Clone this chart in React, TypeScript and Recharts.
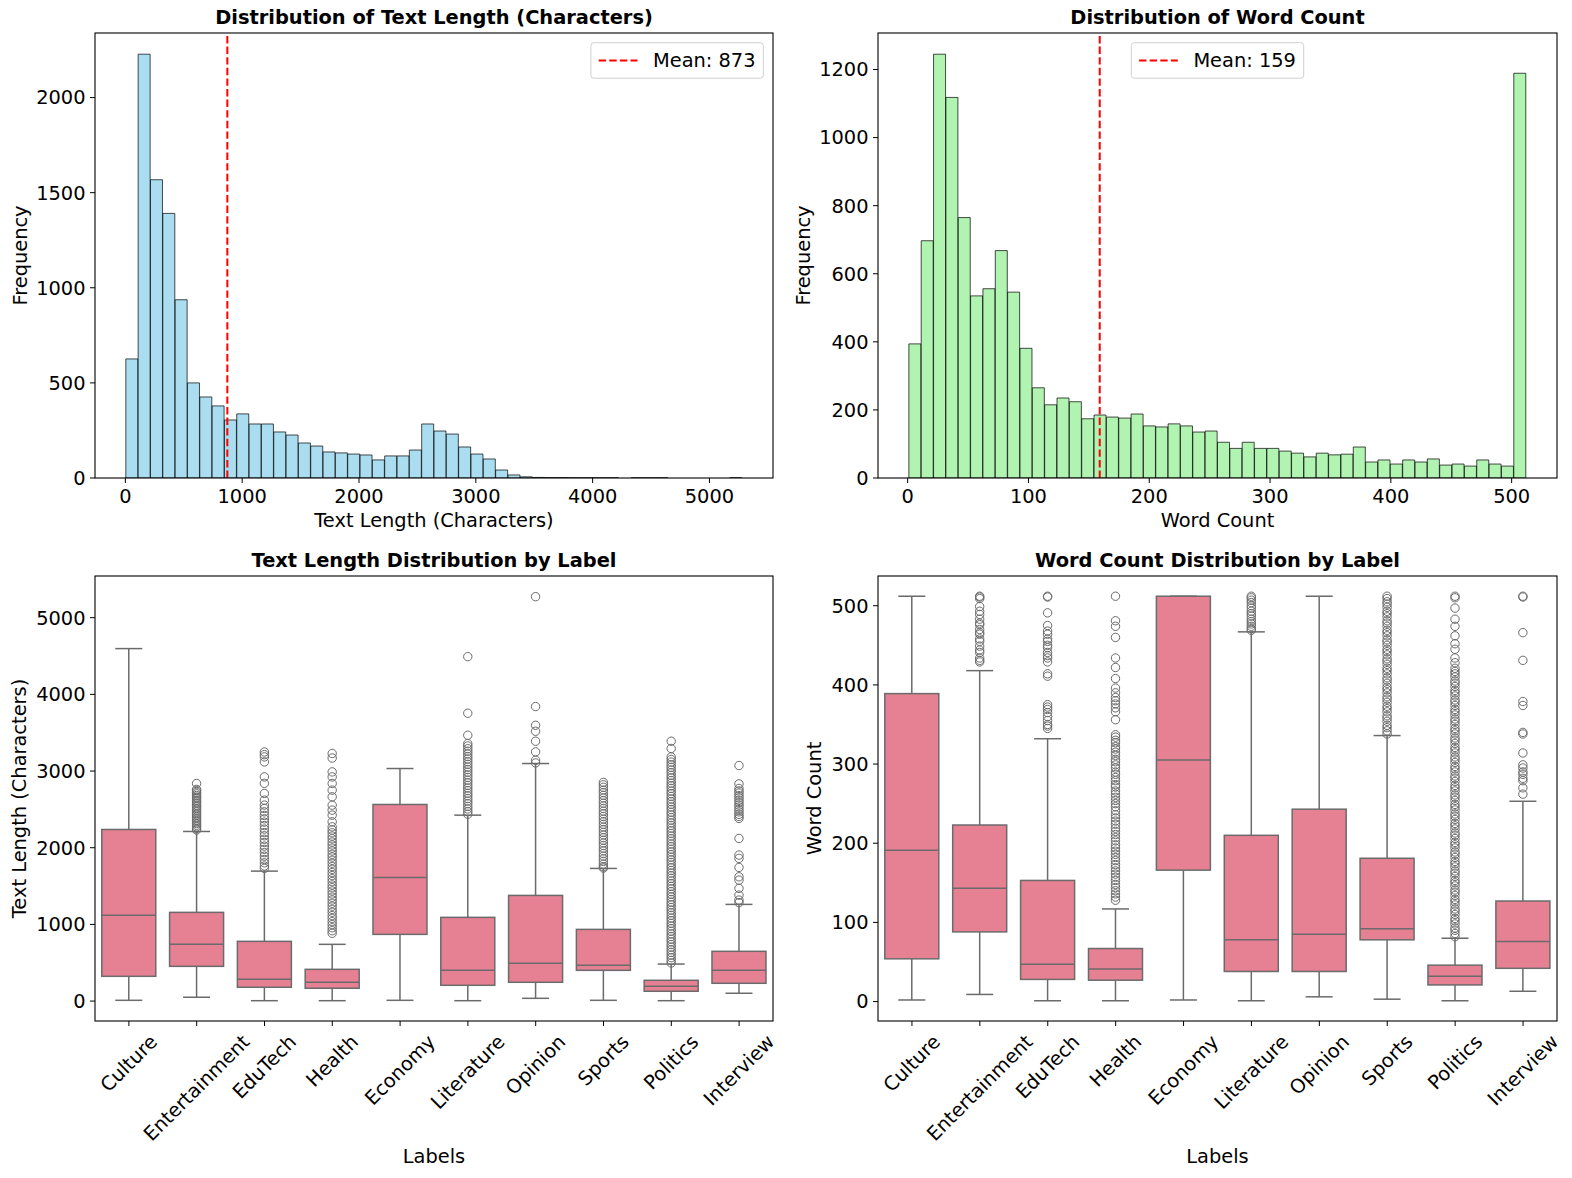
import React from 'react';
import { ComposedChart, Bar, XAxis, YAxis, ReferenceLine } from 'recharts';

const FONT = "'DejaVu Sans', sans-serif";
const FS = 19.4;
const BOX_FILL = '#e68093';
const BOX_LINE = '#6b6b6b';

// ---------- data ----------
const LABELS = ['Culture', 'Entertainment', 'EduTech', 'Health', 'Economy', 'Literature', 'Opinion', 'Sports', 'Politics', 'Interview'];

// text length histogram (50 bins over [min, max])
const TEXT_LEN_RANGE = [4, 5280];
const TEXT_LEN_MEAN = 873;
const TEXT_LEN_HIST = [626, 2228, 1568, 1391, 937, 500, 426, 379, 305, 337, 284, 284, 242, 226, 184, 168, 137, 132, 126, 121, 95, 116, 116, 147, 284, 247, 231, 163, 126, 100, 42, 16, 6, 3, 2, 2, 1, 1, 1, 1, 0, 1, 1, 1, 0, 0, 0, 0, 0, 1];
const TEXT_LEN_X_TICKS = [0, 1000, 2000, 3000, 4000, 5000];
const TEXT_LEN_FREQ_TICKS = [0, 500, 1000, 1500, 2000];

// word count histogram
const WORD_RANGE = [1, 512];
const WORD_MEAN = 159;
const WORD_HIST = [394, 697, 1245, 1118, 765, 535, 556, 668, 546, 381, 265, 215, 235, 224, 174, 185, 179, 176, 188, 153, 150, 159, 153, 135, 138, 105, 87, 105, 87, 87, 79, 73, 62, 73, 68, 70, 91, 47, 53, 41, 53, 47, 56, 38, 41, 35, 53, 41, 35, 1189];
const WORD_X_TICKS = [0, 100, 200, 300, 400, 500];
const WORD_FREQ_TICKS = [0, 200, 400, 600, 800, 1000, 1200];

// text length by label (same order as LABELS)
const TEXT_LEN_LO = [10, 50, 5, 5, 10, 5, 36, 10, 5, 102];
const TEXT_LEN_Q1 = [323, 453, 180, 167, 870, 206, 245, 401, 128, 232];
const TEXT_LEN_MED = [1118, 740, 284, 245, 1613, 401, 492, 466, 193, 401];
const TEXT_LEN_Q3 = [2238, 1157, 779, 414, 2564, 1092, 1378, 935, 271, 649];
const TEXT_LEN_HI = [4597, 2212, 1695, 740, 3033, 2425, 3098, 1730, 483, 1261];
const TEXT_LEN_TICKS = [0, 1000, 2000, 3000, 4000, 5000];
const TEXT_LEN_OUTLIERS = [
  [],
  [2838, 2761, 2744, 2722, 2703, 2681, 2660, 2642, 2619, 2598, 2577, 2553, 2534, 2511, 2489, 2468, 2444, 2425, 2401, 2380, 2357, 2338, 2315, 2293, 2272, 2249, 2231],
  [3249, 3214, 3184, 3119, 2924, 2840, 2708, 2620, 2556, 2512, 2468, 2421, 2377, 2334, 2289, 2243, 2197, 2156, 2110, 2068, 2021, 1979, 1936, 1890, 1847, 1803, 1762, 1731],
  [3229, 3170, 2989, 2924, 2838, 2751, 2664, 2555, 2490, 2425, 2338, 2273, 2231, 2195, 2152, 2117, 2074, 2036, 1995, 1957, 1914, 1878, 1836, 1797, 1755, 1718, 1676, 1637, 1596, 1558, 1515, 1478, 1436, 1397, 1355, 1318, 1276, 1237, 1196, 1158, 1115, 1078, 1036, 997, 956, 918, 884],
  [],
  [4492, 3754, 3467, 3358, 3327, 3291, 3258, 3224, 3189, 3157, 3121, 3088, 3052, 3019, 2985, 2950, 2917, 2881, 2848, 2812, 2779, 2745, 2710, 2677, 2641, 2608, 2574, 2539, 2506, 2470, 2437],
  [5274, 3841, 3597, 3519, 3389, 3250, 3141, 3106],
  [2852, 2821, 2788, 2752, 2719, 2683, 2650, 2614, 2581, 2545, 2512, 2476, 2443, 2407, 2374, 2338, 2305, 2269, 2236, 2200, 2167, 2131, 2098, 2062, 2029, 1993, 1960, 1924, 1891, 1855, 1822, 1786, 1753, 1735],
  [3389, 3294, 3184, 3151, 3117, 3082, 3049, 3013, 2980, 2944, 2911, 2876, 2842, 2807, 2774, 2738, 2705, 2669, 2636, 2600, 2567, 2531, 2498, 2462, 2429, 2393, 2360, 2324, 2291, 2255, 2222, 2186, 2153, 2117, 2084, 2048, 2015, 1979, 1946, 1910, 1877, 1841, 1808, 1772, 1739, 1703, 1670, 1634, 1601, 1565, 1532, 1496, 1463, 1427, 1394, 1358, 1325, 1289, 1256, 1220, 1187, 1151, 1118, 1082, 1049, 1013, 980, 944, 911, 875, 842, 806, 773, 737, 704, 668, 635, 599, 566, 530, 497],
  [3072, 2833, 2773, 2741, 2712, 2679, 2651, 2618, 2590, 2557, 2529, 2497, 2468, 2436, 2408, 2382, 2121, 1904, 1861, 1743, 1621, 1578, 1470, 1382, 1317, 1284],
];

// word count by label
const WORD_LO = [2, 9, 1, 1, 2, 1, 6, 3, 1, 13];
const WORD_Q1 = [54, 88, 28, 27, 166, 38, 38, 78, 21, 42];
const WORD_MED = [191, 143, 47, 41, 305, 78, 85, 92, 32, 76];
const WORD_Q3 = [389, 223, 153, 67, 512, 210, 243, 181, 46, 127];
const WORD_HI = [512, 418, 332, 117, 512, 467, 512, 336, 80, 253];
const WORD_TICKS = [0, 100, 200, 300, 400, 500];
const WORD_OUTLIERS = [
  [],
  [512, 511, 509, 499, 493, 489, 483, 478, 476, 470, 466, 464, 458, 455, 449, 444, 441, 434, 431, 429],
  [512, 511, 491, 475, 468, 464, 458, 455, 450, 447, 441, 437, 434, 429, 414, 411, 375, 372, 369, 365, 360, 355, 350, 348, 345],
  [512, 481, 474, 460, 434, 422, 408, 396, 390, 384, 380, 376, 371, 366, 356, 337, 334, 330, 327, 322, 319, 315, 311, 306, 303, 299, 295, 290, 287, 283, 279, 274, 271, 266, 262, 258, 254, 250, 246, 241, 236, 232, 228, 224, 219, 215, 211, 207, 203, 198, 194, 190, 186, 182, 178, 173, 169, 165, 161, 157, 153, 148, 144, 140, 136, 132, 128],
  [],
  [512, 510, 507, 504, 500, 497, 493, 490, 487, 483, 480, 477, 474, 471, 469],
  [],
  [512, 509, 505, 502, 498, 493, 490, 486, 481, 478, 474, 469, 466, 462, 457, 454, 450, 445, 442, 438, 433, 430, 426, 421, 418, 414, 409, 406, 402, 397, 394, 390, 385, 382, 378, 373, 370, 366, 361, 358, 354, 349, 346, 342, 338],
  [512, 510, 497, 483, 474, 462, 452, 445, 434, 428, 421, 417, 414, 410, 405, 402, 398, 393, 390, 386, 381, 378, 374, 369, 366, 362, 357, 354, 350, 345, 342, 338, 333, 330, 326, 321, 318, 314, 309, 306, 302, 297, 294, 290, 285, 282, 278, 273, 270, 266, 261, 258, 254, 249, 246, 242, 237, 234, 230, 225, 222, 218, 213, 210, 206, 201, 198, 194, 189, 186, 182, 177, 174, 170, 165, 162, 158, 153, 150, 146, 141, 138, 134, 129, 126, 122, 117, 114, 110, 105, 102, 98, 93, 90, 86, 82],
  [512, 511, 466, 431, 379, 374, 340, 338, 314, 299, 295, 290, 287, 282, 279, 270, 262],
];

// ---------- layout ----------
type Panel = { left: number; top: number; width: number; height: number; px: number; py: number; pw: number; ph: number; xh: number };
const TL: Panel = { left: 0, top: 0, width: 780, height: 540, px: 95, py: 33, pw: 678, ph: 445, xh: 40 };
const TR: Panel = { left: 780, top: 0, width: 790, height: 540, px: 878, py: 33, pw: 679, ph: 445, xh: 40 };
const BL: Panel = { left: 0, top: 540, width: 780, height: 638, px: 95, py: 576, pw: 678, ph: 445, xh: 130 };
const BR: Panel = { left: 780, top: 540, width: 790, height: 638, px: 878, py: 576, pw: 679, ph: 445, xh: 130 };

const chartMargin = (p: Panel) => ({
  top: p.py - p.top,
  left: 0,
  right: p.left + p.width - p.px - p.pw,
  bottom: p.top + p.height - p.py - p.ph - p.xh,
});

// matplotlib-style 5% margins
const padDomain = ([a, b]: number[]) => [a - 0.05 * (b - a), b + 0.05 * (b - a)];

let ctx: CanvasRenderingContext2D | null = null;
const textWidth = (s: string) => {
  if (!ctx) ctx = document.createElement('canvas').getContext('2d');
  if (!ctx) return s.length * FS * 0.6;
  ctx.font = `${FS}px "DejaVu Sans"`;
  return ctx.measureText(s).width;
};

const tickStyle = { fill: '#000', fontSize: FS, fontFamily: FONT };

function Histogram({ p, counts, range, mean, xTicks, yTicks, fill }: any) {
  const [lo, hi] = padDomain(range);
  const ppu = p.pw / (hi - lo);
  const pad = (range[0] - lo) * ppu;
  const step = (range[1] - range[0]) / counts.length;
  const data = counts.map((c: number, i: number) => ({ bin: range[0] + (i + 0.5) * step, count: c }));
  const yMax = Math.max(...counts) * 1.05;
  return (
    <div style={{ position: 'absolute', left: p.left, top: p.top }}>
      <ComposedChart width={p.width} height={p.height} data={data} margin={chartMargin(p)} barCategoryGap={0} barGap={0} style={{ fontFamily: FONT }}>
        <XAxis xAxisId="num" type="number" dataKey="bin" domain={[lo, hi]} ticks={xTicks} allowDataOverflow height={p.xh}
          axisLine={false} tickLine={{ stroke: '#000' }} tickSize={5} tickMargin={6} tick={tickStyle} />
        <XAxis xAxisId="bins" dataKey="bin" hide height={0} padding={{ left: pad, right: pad }} />
        <YAxis type="number" domain={[0, yMax]} ticks={yTicks} allowDataOverflow width={p.px - p.left}
          axisLine={false} tickLine={{ stroke: '#000' }} tickSize={5} tickMargin={4.5} tick={tickStyle} />
        <Bar xAxisId="bins" dataKey="count" fill={fill} fillOpacity={0.7} stroke="#000" strokeOpacity={0.7} strokeWidth={1} isAnimationActive={false} />
        <ReferenceLine xAxisId="num" x={mean} stroke="#ff0000" strokeWidth={2} strokeDasharray="7.4 3.2" />
      </ComposedChart>
    </div>
  );
}

function BoxShape(props: any) {
  const { x, y, width, height, payload } = props;
  const top = Math.min(y, y + height);
  const bottom = Math.max(y, y + height);
  const k = (bottom - top) / (payload.q3 - payload.q1);
  const yOf = (v: number) => bottom - (v - payload.q1) * k;
  const cx = x + width / 2;
  const cap = width / 4;
  const ln = { stroke: BOX_LINE, strokeWidth: 1.5 };
  return (
    <g>
      <line x1={cx} x2={cx} y1={top} y2={yOf(payload.hi)} {...ln} />
      <line x1={cx} x2={cx} y1={bottom} y2={yOf(payload.lo)} {...ln} />
      <line x1={cx - cap} x2={cx + cap} y1={yOf(payload.hi)} y2={yOf(payload.hi)} {...ln} />
      <line x1={cx - cap} x2={cx + cap} y1={yOf(payload.lo)} y2={yOf(payload.lo)} {...ln} />
      <rect x={x} y={top} width={width} height={bottom - top} fill={BOX_FILL} {...ln} />
      <line x1={x} x2={x + width} y1={yOf(payload.med)} y2={yOf(payload.med)} {...ln} />
      {payload.out.map((v: number, i: number) => (
        <circle key={i} cx={cx} cy={yOf(v)} r={4.2} fill="none" stroke={BOX_LINE} strokeWidth={1} />
      ))}
    </g>
  );
}

function RotatedTick({ x, y, payload }: any) {
  const w = textWidth(payload.value);
  const h = FS * 1.164;
  const cy = y + ((w + h) * Math.SQRT1_2) / 2;
  return (
    <text x={x} y={cy} textAnchor="middle" dominantBaseline="central" transform={`rotate(-45 ${x} ${cy})`}
      fontSize={FS} fontFamily={FONT} fill="#000">
      {payload.value}
    </text>
  );
}

function BoxPanel({ p, lo, q1, med, q3, hi, out, range, yTicks }: any) {
  const data = LABELS.map((label, i) => ({
    label, box: [q1[i], q3[i]], lo: lo[i], q1: q1[i], med: med[i], q3: q3[i], hi: hi[i], out: out[i],
  }));
  return (
    <div style={{ position: 'absolute', left: p.left, top: p.top }}>
      <ComposedChart width={p.width} height={p.height} data={data} margin={chartMargin(p)} barCategoryGap="10%" style={{ fontFamily: FONT }}>
        <XAxis dataKey="label" interval={0} height={p.xh} axisLine={false} tickLine={{ stroke: '#000' }}
          tickSize={5} tickMargin={4.5} tick={<RotatedTick />} />
        <YAxis type="number" domain={padDomain(range)} ticks={yTicks} allowDataOverflow width={p.px - p.left}
          axisLine={false} tickLine={{ stroke: '#000' }} tickSize={5} tickMargin={4.5} tick={tickStyle} />
        <Bar dataKey="box" shape={<BoxShape />} isAnimationActive={false} />
      </ComposedChart>
    </div>
  );
}

function MeanLegend({ x, y, text }: { x: number; y: number; text: string }) {
  const w = 0.8 * FS + 2 * FS + 0.8 * FS + textWidth(text);
  const h = 0.8 * FS + FS * 1.0 + 0.6;
  const cy = y + h / 2;
  return (
    <g>
      <rect x={x} y={y} width={w} height={h} rx={3} fill="#fff" fillOpacity={0.8} stroke="#d0d0d0" strokeWidth={1} />
      <line x1={x + 0.4 * FS} x2={x + 2.4 * FS} y1={cy} y2={cy} stroke="#ff0000" strokeWidth={2} strokeDasharray="7.4 3.2" />
      <text x={x + 3.2 * FS} y={cy + 7} fontSize={FS} fontFamily={FONT} fill="#000">{text}</text>
    </g>
  );
}

const legendWidth = (text: string) => 3.6 * FS + textWidth(text);

export default function App() {
  const tlText = `Mean: ${TEXT_LEN_MEAN}`;
  const trText = `Mean: ${WORD_MEAN}`;
  const cx = (p: Panel) => p.px + p.pw / 2;
  const cy = (p: Panel) => p.py + p.ph / 2;
  const lbl = { fontSize: FS, fontFamily: FONT, fill: '#000', textAnchor: 'middle' as const };
  const ttl = { ...lbl, fontWeight: 'bold' as const };
  return (
    <div style={{ position: 'absolute', left: 0, top: 0, width: 1572, height: 1178, background: '#fff', fontFamily: FONT }}>
      <Histogram p={TL} counts={TEXT_LEN_HIST} range={TEXT_LEN_RANGE} mean={TEXT_LEN_MEAN}
        xTicks={TEXT_LEN_X_TICKS} yTicks={TEXT_LEN_FREQ_TICKS} fill="skyblue" />
      <Histogram p={TR} counts={WORD_HIST} range={WORD_RANGE} mean={WORD_MEAN}
        xTicks={WORD_X_TICKS} yTicks={WORD_FREQ_TICKS} fill="lightgreen" />
      <BoxPanel p={BL} lo={TEXT_LEN_LO} q1={TEXT_LEN_Q1} med={TEXT_LEN_MED} q3={TEXT_LEN_Q3} hi={TEXT_LEN_HI}
        out={TEXT_LEN_OUTLIERS} range={TEXT_LEN_RANGE} yTicks={TEXT_LEN_TICKS} />
      <BoxPanel p={BR} lo={WORD_LO} q1={WORD_Q1} med={WORD_MED} q3={WORD_Q3} hi={WORD_HI}
        out={WORD_OUTLIERS} range={WORD_RANGE} yTicks={WORD_TICKS} />

      <svg width={1572} height={1178} style={{ position: 'absolute', left: 0, top: 0, pointerEvents: 'none' }}>
        {[TL, TR, BL, BR].map((p, i) => (
          <rect key={i} x={p.px} y={p.py} width={p.pw} height={p.ph} fill="none" stroke="#000" strokeWidth={1.1} />
        ))}

        <text x={cx(TL)} y={24} {...ttl}>Distribution of Text Length (Characters)</text>
        <text x={cx(TR)} y={24} {...ttl}>Distribution of Word Count</text>
        <text x={cx(BL)} y={567} {...ttl}>Text Length Distribution by Label</text>
        <text x={cx(BR)} y={567} {...ttl}>Word Count Distribution by Label</text>

        <text x={cx(TL)} y={527} {...lbl}>Text Length (Characters)</text>
        <text x={cx(TR)} y={527} {...lbl}>Word Count</text>
        <text x={cx(BL)} y={1163} {...lbl}>Labels</text>
        <text x={cx(BR)} y={1163} {...lbl}>Labels</text>

        <text x={27} y={cy(TL)} transform={`rotate(-90 27 ${cy(TL)})`} {...lbl}>Frequency</text>
        <text x={810} y={cy(TR)} transform={`rotate(-90 810 ${cy(TR)})`} {...lbl}>Frequency</text>
        <text x={26} y={cy(BL)} transform={`rotate(-90 26 ${cy(BL)})`} {...lbl}>Text Length (Characters)</text>
        <text x={821} y={cy(BR)} transform={`rotate(-90 821 ${cy(BR)})`} {...lbl}>Word Count</text>

        <MeanLegend x={TL.px + TL.pw - 0.5 * FS - legendWidth(tlText)} y={TL.py + 0.5 * FS} text={tlText} />
        <MeanLegend x={cx(TR) - legendWidth(trText) / 2} y={TR.py + 0.5 * FS} text={trText} />
      </svg>
    </div>
  );
}
